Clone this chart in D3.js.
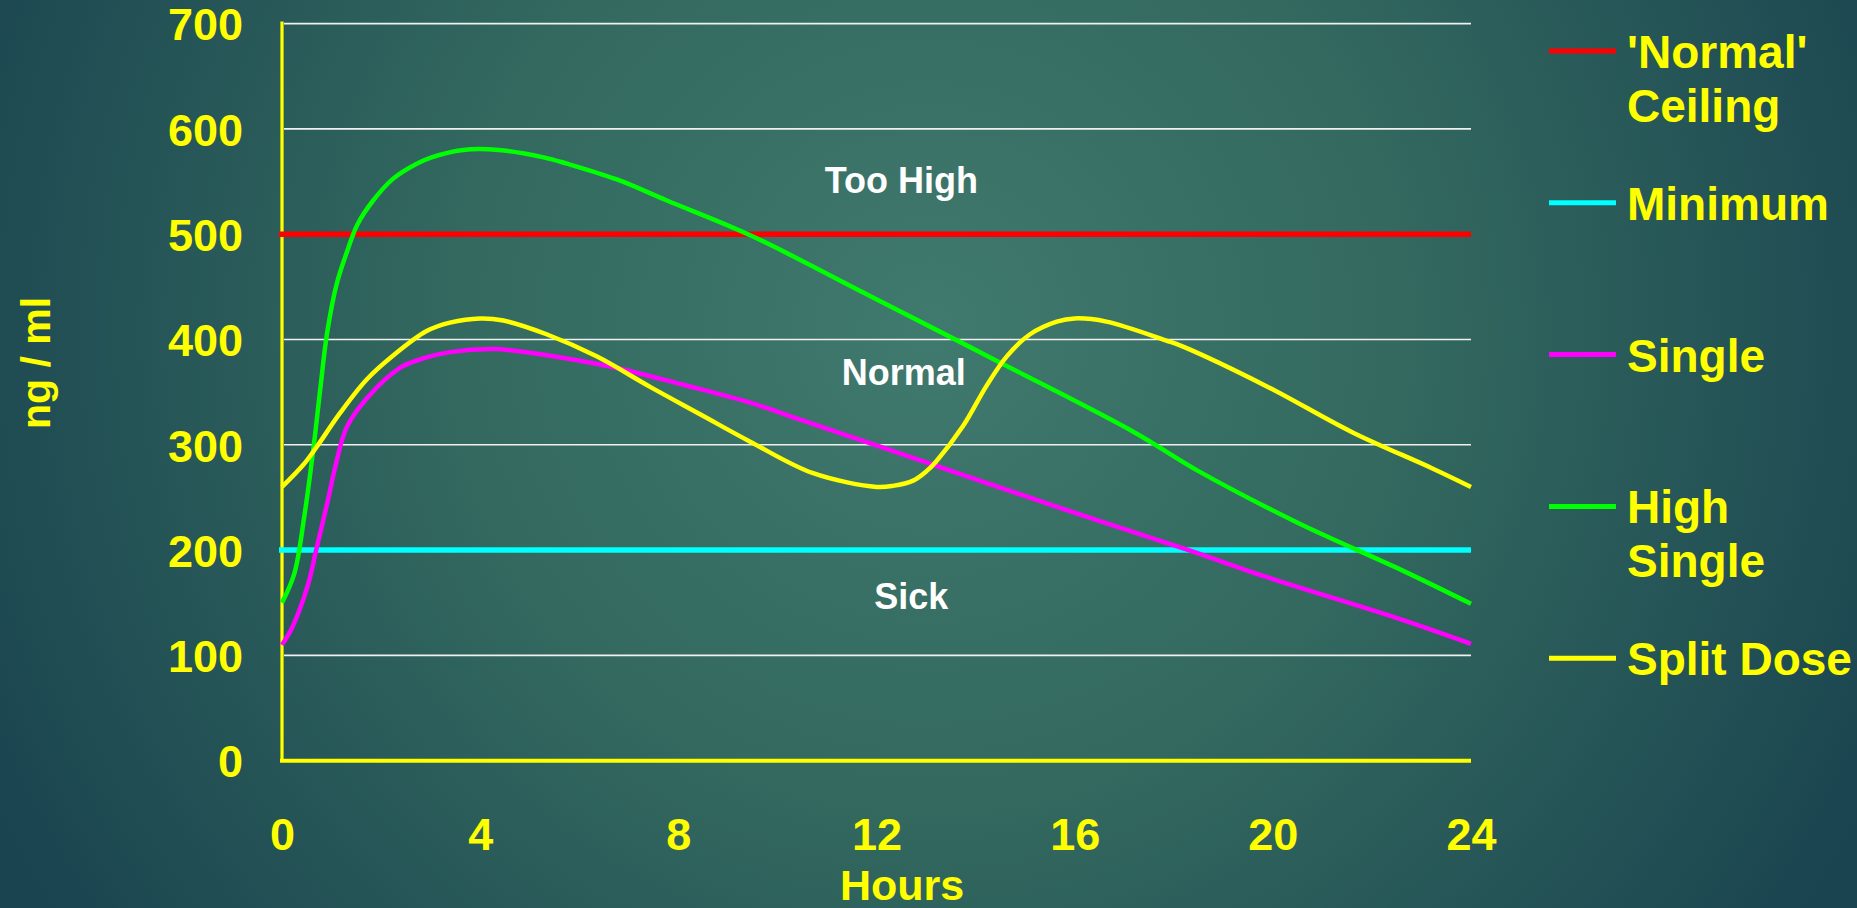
<!DOCTYPE html>
<html>
<head>
<meta charset="utf-8">
<script src="https://cdn.jsdelivr.net/npm/d3@7"></script>
<style>
  html, body { margin: 0; padding: 0; background: #1f4c55; overflow: hidden; }
  svg text { font-family: "Liberation Sans", Arial, sans-serif; font-weight: bold; }
</style>
</head>
<body>
<svg id="chart"></svg>
<script>
// data
var xTicks = [0, 4, 8, 12, 16, 20, 24];
var yTicks = [0, 100, 200, 300, 400, 500, 600, 700];

var ceilingLevel = 500;
var minimumLevel = 200;

var singleHours = [0, 0.21, 0.53, 0.69, 0.93, 1.09, 1.31, 1.71, 2.38, 2.85, 3.39, 4.3, 4.74, 5.75, 6.76, 8.1, 9.45, 10.46, 13.15, 15.84, 18.3, 19.9, 22.6, 24];
var singleValues = [110, 127, 168, 200, 248, 282, 317, 344, 373, 382, 388, 391, 389, 382, 373, 357, 340, 324, 281, 238, 200, 174, 134, 111];

var highHours = [0, 0.25, 0.45, 0.63, 0.77, 0.91, 1.1, 1.31, 1.52, 1.84, 2.25, 2.72, 3.02, 3.66, 4.37, 5.28, 5.75, 6.76, 7.77, 9.45, 11.8, 14.5, 17.2, 18.5, 20.5, 22.6, 24];
var highValues = [150, 178, 232, 295, 352, 406, 452, 483, 509, 532, 553, 567, 573, 580, 580, 573, 567, 552, 532, 499, 443, 378, 312, 275, 226, 181, 149];

var splitHours = [0, 0.43, 0.7, 1.17, 1.71, 2.25, 2.92, 3.39, 4.0, 4.47, 5.34, 6.35, 7.43, 8.44, 9.45, 10.72, 12.0, 12.33, 12.74, 13.01, 13.2, 13.75, 14.22, 14.63, 15.1, 15.64, 16.0, 16.64, 17.85, 18.2, 19.9, 21.6, 23.2, 24];
var splitValues = [260, 281, 298, 330, 362, 385, 408, 416, 420, 418, 405, 384, 355, 329, 303, 273, 260, 261, 266, 275, 284, 318, 356, 384, 405, 417, 420, 417, 399, 393, 355, 312, 278, 260];

var legendNames = [["'Normal'", "Ceiling"], ["Minimum"], ["Single"], ["High", "Single"], ["Split Dose"]];
var legendColors = ["#ff0000", "#00ffff", "#ff00ff", "#00ff00", "#ffff00"];

var zoneNames = ["Too High", "Normal", "Sick"];
var zoneHours = [12.5, 12.55, 12.7];
var zoneValues = [539, 357, 144];

// layout
var W = 1857, H = 908;
var plotLeft = 282, plotRight = 1471, plotTop = 23.6, plotBottom = 760.7;

var svg = d3.select("#chart").attr("width", W).attr("height", H);

var defs = svg.append("defs");
var grad = defs.append("radialGradient").attr("id", "bg")
  .attr("gradientUnits", "userSpaceOnUse")
  .attr("cx", 930).attr("cy", 330).attr("r", 1050);
grad.append("stop").attr("offset", "0").attr("stop-color", "#40796d");
grad.append("stop").attr("offset", "0.45").attr("stop-color", "#33695f");
grad.append("stop").attr("offset", "1").attr("stop-color", "#1a4450");
svg.append("rect").attr("width", W).attr("height", H).attr("fill", "url(#bg)");

var x = d3.scaleLinear().domain([0, 24]).range([plotLeft, plotRight]);
var y = d3.scaleLinear().domain([0, 700]).range([plotBottom, plotTop]);

// grid lines
svg.append("g").selectAll("line").data(yTicks.filter(function(d) { return d > 0; }))
  .enter().append("line")
  .attr("x1", plotLeft + 2).attr("x2", plotRight)
  .attr("y1", function(d) { return y(d); }).attr("y2", function(d) { return y(d); })
  .attr("stroke", "#f0f0f0").attr("stroke-width", 1.6);

// axes
var yAxis = svg.append("g").attr("transform", "translate(" + (plotLeft - 39) + ",0)")
  .call(d3.axisLeft(y).tickValues(yTicks).tickSize(0).tickPadding(0));
yAxis.select(".domain").remove();
yAxis.selectAll("text").attr("fill", "#ffff00").style("font-size", "45px").attr("dy", "0.36em");

var xAxis = svg.append("g").attr("transform", "translate(0," + plotBottom + ")")
  .call(d3.axisBottom(x).tickValues(xTicks).tickSize(0).tickPadding(0));
xAxis.select(".domain").remove();
xAxis.selectAll("text").attr("fill", "#ffff00").style("font-size", "45px").attr("dy", 0).attr("y", 89);

svg.append("line").attr("x1", plotLeft).attr("x2", plotLeft).attr("y1", plotTop - 2).attr("y2", plotBottom)
  .attr("stroke", "#ffff00").attr("stroke-width", 3.2);
svg.append("line").attr("x1", plotLeft - 2).attr("x2", plotRight).attr("y1", plotBottom).attr("y2", plotBottom)
  .attr("stroke", "#ffff00").attr("stroke-width", 4);

// axis titles
svg.append("text").attr("transform", "translate(50,363) rotate(-90)")
  .attr("text-anchor", "middle").attr("fill", "#ffff00").style("font-size", "41px").text("ng / ml");
svg.append("text").attr("x", 902).attr("y", 900)
  .attr("text-anchor", "middle").attr("fill", "#ffff00").style("font-size", "43px").text("Hours");

// zone labels
svg.append("g").selectAll("text").data(zoneNames).enter().append("text")
  .attr("x", function(d, i) { return x(zoneHours[i]); })
  .attr("y", function(d, i) { return y(zoneValues[i]); })
  .attr("text-anchor", "middle").attr("fill", "#ffffff").style("font-size", "36px")
  .text(function(d) { return d; });

// reference levels
[ceilingLevel, minimumLevel].forEach(function(v, i) {
  svg.append("line").attr("x1", x(0) - 3).attr("x2", x(24))
    .attr("y1", y(v)).attr("y2", y(v))
    .attr("stroke", legendColors[i]).attr("stroke-width", 5.5);
});

// curves
var line = d3.line().x(function(d) { return x(d[0]); }).y(function(d) { return y(d[1]); }).curve(d3.curveCatmullRom.alpha(0.5));
var series = [[singleHours, singleValues, legendColors[2]], [highHours, highValues, legendColors[3]], [splitHours, splitValues, legendColors[4]]];
series.forEach(function(s) {
  var pts = d3.zip(s[0], s[1]);
  svg.append("path").datum(pts).attr("d", line)
    .attr("fill", "none").attr("stroke", s[2]).attr("stroke-width", 4.5)
    .attr("stroke-linejoin", "round");
});

// legend
var lg = svg.append("g");
legendNames.forEach(function(name, i) {
  var ly = 51 + i * 151.8;
  lg.append("line").attr("x1", 1549).attr("x2", 1616).attr("y1", ly).attr("y2", ly)
    .attr("stroke", legendColors[i]).attr("stroke-width", 5);
  name.forEach(function(t, j) {
    lg.append("text").attr("x", 1627).attr("y", ly + 17 + j * 54)
      .attr("fill", "#ffff00").style("font-size", "46px").text(t);
  });
});
</script>
</body>
</html>
